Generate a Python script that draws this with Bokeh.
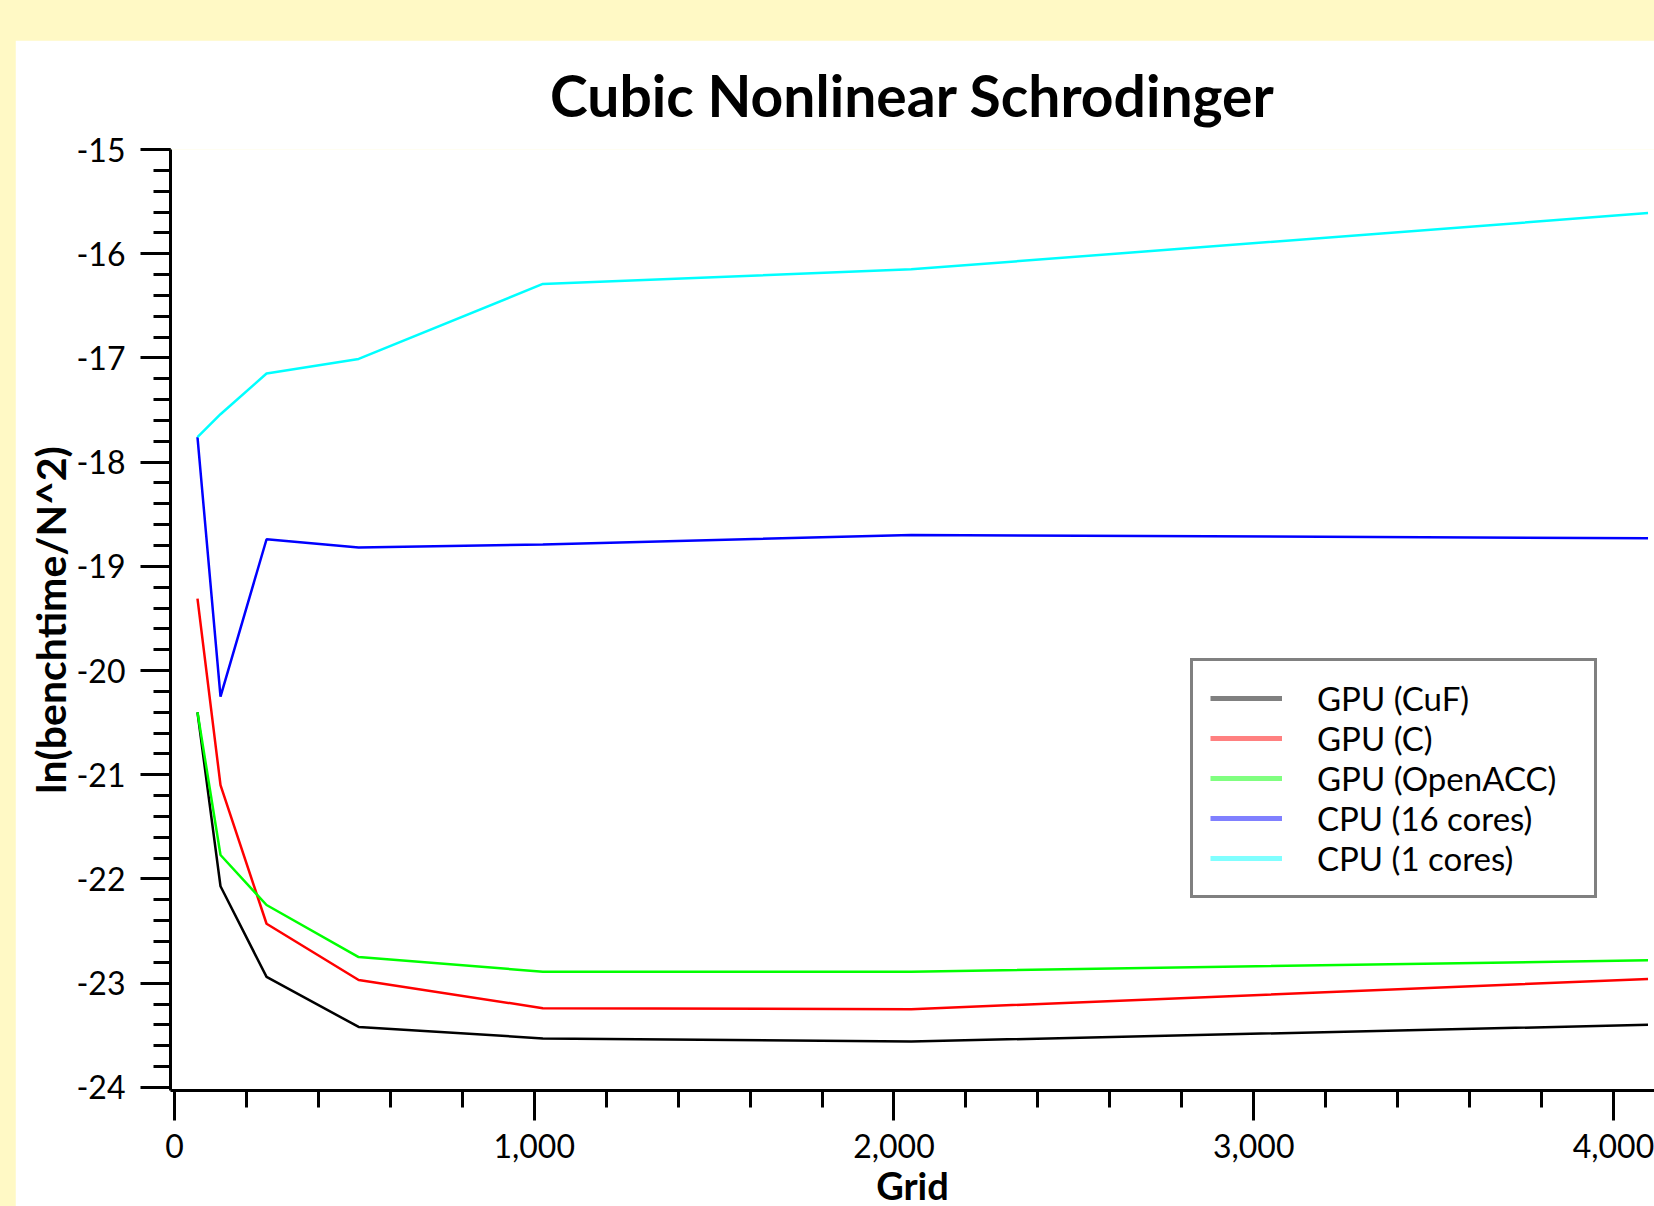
from bokeh.plotting import figure
from bokeh.models import Range1d, Legend, LegendItem, SingleIntervalTicker, NumeralTickFormatter
from bokeh.layouts import column
from bokeh.embed import file_html
from bokeh.resources import INLINE

# ---- data ----
grid = [64, 128, 256, 512, 1024, 2048, 4096]
gpu_cuf = [-20.40, -22.07, -22.94, -23.42, -23.53, -23.56, -23.40]
gpu_c = [-19.31, -21.10, -22.43, -22.97, -23.24, -23.25, -22.96]
gpu_openacc = [-20.40, -21.77, -22.25, -22.75, -22.89, -22.89, -22.78]
cpu_16 = [-17.76, -20.25, -18.74, -18.82, -18.79, -18.70, -18.73]
cpu_1 = [-17.76, -17.54, -17.15, -17.01, -16.29, -16.15, -15.61]

series_names = ["GPU (CuF)", "GPU (C)", "GPU (OpenACC)", "CPU (16 cores)", "CPU (1 cores)"]
series_values = [gpu_cuf, gpu_c, gpu_openacc, cpu_16, cpu_1]
line_colors = ["#000000", "#FF0000", "#00FF00", "#0000FF", "#00FFFF"]
legend_colors = ["#808080", "#FF8080", "#80FF80", "#8080FF", "#80FFFF"]

FONT = "Lato"

p = figure(width=1639, height=1200, output_backend="svg", toolbar_location=None,
           x_range=Range1d(-11, 4114), y_range=Range1d(-24.03, -15),
           min_border_left=155, min_border_right=0, min_border_top=109,
           min_border_bottom=150)
p.margin = (40, 0, 0, 15)
p.background_fill_color = "white"
p.border_fill_color = "white"
p.outline_line_color = None
p.xgrid.visible = False
p.ygrid.visible = False

p.title.text = "Cubic Nonlinear Schrodinger"
p.title.align = "center"
p.title.vertical_align = "top"
p.title.text_font = FONT
p.title.text_font_style = "bold"
p.title.text_font_size = "57px"
p.title.text_color = "black"
p.title.standoff = 38

p.xaxis.ticker = SingleIntervalTicker(interval=1000, num_minor_ticks=5)
p.yaxis.ticker = SingleIntervalTicker(interval=1, num_minor_ticks=5)
p.xaxis.formatter = NumeralTickFormatter(format="0,0")
p.yaxis.formatter = NumeralTickFormatter(format="0")

for ax in (p.xaxis, p.yaxis):
    ax.axis_line_width = 3
    ax.major_tick_line_width = 3
    ax.minor_tick_line_width = 3
    ax.axis_line_color = "black"
    ax.major_tick_line_color = "black"
    ax.minor_tick_line_color = "black"
    ax.major_tick_out = 30
    ax.major_tick_in = 0
    ax.minor_tick_out = 17
    ax.minor_tick_in = 0
    ax.major_label_text_font = FONT
    ax.major_label_text_font_size = "32px"
    ax.major_label_text_color = "black"
    ax.axis_label_text_font = FONT
    ax.axis_label_text_font_style = "bold"
    ax.axis_label_text_color = "black"

p.xaxis.axis_label = "Grid"
p.xaxis.axis_label_text_font_size = "38px"
p.xaxis.major_label_standoff = 13
p.xaxis.axis_label_standoff = 1
p.yaxis.axis_label = "ln(benchtime/N^2)"
p.yaxis.axis_label_text_font_size = "41px"
p.yaxis.major_label_standoff = 15
p.yaxis.axis_label_standoff = -2

items = []
for name, vals, c, lc in zip(series_names, series_values, line_colors, legend_colors):
    p.line(grid, vals, line_color=c, line_width=2.5)
    dummy = p.line(x=grid, y=[float("nan")] * len(grid), line_color=lc, line_width=5)
    items.append(LegendItem(label=name, renderers=[dummy]))

legend = Legend(items=items, location=(1020, 192), margin=0, padding=17, spacing=0,
                glyph_width=72, glyph_height=40, label_height=40, label_width=260,
                label_standoff=35, label_text_font=FONT, label_text_font_size="33px",
                label_text_color="black", border_line_color="#808080", border_line_width=3,
                border_line_alpha=1.0, background_fill_color="white", background_fill_alpha=1.0)
p.add_layout(legend, "center")

layout = column(p, width=1654, height=1206,
                styles={"background-color": "#FFF9C5", "overflow": "hidden"})

open("out.html", "w").write(file_html(layout, INLINE))
